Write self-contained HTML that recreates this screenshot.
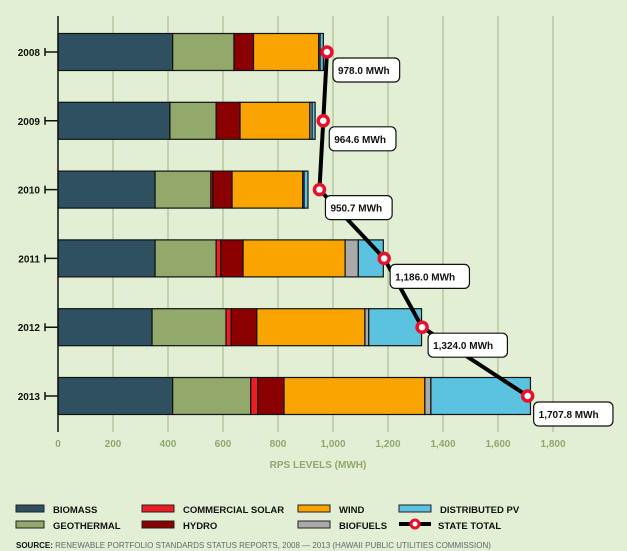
<!DOCTYPE html>
<html><head><meta charset="utf-8"><style>
html,body{margin:0;padding:0;background:#e2efd5;}
svg{display:block;font-family:"Liberation Sans",sans-serif;}
</style></head><body>
<svg id="c" width="627" height="551" viewBox="0 0 627 551">
<rect x="0" y="0" width="627" height="551" fill="#e2efd5"/>
<g id="grid"></g><g id="bars"></g><g id="axis"></g><g id="line"></g>
<text x="318" y="468" text-anchor="middle" font-size="10" font-weight="bold" fill="#8fa86c">RPS LEVELS (MWH)</text>
<g id="legend" font-size="9.5" font-weight="bold" fill="#111"></g>
<text x="16" y="548" font-size="8" fill="#666"><tspan font-weight="bold" fill="#111">SOURCE:</tspan> RENEWABLE PORTFOLIO STANDARDS STATUS REPORTS, 2008 — 2013 (HAWAII PUBLIC UTILITIES COMMISSION)</text>
</svg>
<script>
const years=["2008","2009","2010","2011","2012","2013"];
const biomass=[417,407,353,353,342,417];
const geothermal=[223,168,203,222,269,284];
const commercialSolar=[0,0,7,17,19,26];
const hydro=[71,87,70,81,93,95];
const wind=[237,254,257,371,393,512];
const biofuels=[5,8,5,48,14,22];
const distributedPV=[12,11,14,91,192,362];
const totals=[978.0,964.6,950.7,1186.0,1324.0,1707.8];
const totalLabels=["978.0 MWh","964.6 MWh","950.7 MWh","1,186.0 MWh","1,324.0 MWh","1,707.8 MWh"];
const xTicks=[0,200,400,600,800,1000,1200,1400,1600,1800];
const xTickLabels=["0","200","400","600","800","1,000","1,200","1,400","1,600","1,800"];

const NS="http://www.w3.org/2000/svg";
const X0=58,K=0.275;
const xs=v=>X0+v*K;
const yTop=i=>33.5+i*68.8, BH=37;
function mk(p,t,a){const e=document.createElementNS(NS,t);for(const k in a)e.setAttribute(k,a[k]);p.appendChild(e);return e;}
const G=document.getElementById('grid'),B=document.getElementById('bars'),A=document.getElementById('axis'),L=document.getElementById('line'),LG=document.getElementById('legend');
xTicks.forEach((t,i)=>{
  if(t>0){const g=mk(G,'line',{x1:xs(t),x2:xs(t),y1:16,y2:432,stroke:'#b7c8a2','stroke-width':1.5});
  
  }
  const tx=mk(A,'text',{x:xs(t),y:447,'text-anchor':'middle','font-size':10,'font-weight':'bold',fill:'#8fa86c'});
  tx.textContent=xTickLabels[i];
  
  
});
const ax=mk(A,'line',{x1:X0,x2:X0,y1:16,y2:432,stroke:'#111','stroke-width':1.5});


const series=[["biomass",biomass,"#2e5060"],["geothermal",geothermal,"#93a86b"],["commercial-solar",commercialSolar,"#ee1c24"],["hydro",hydro,"#8b0000"],["wind",wind,"#f9a400"],["biofuels",biofuels,"#aaaaaa"],["distributed-pv",distributedPV,"#5bc3e0"]];
years.forEach((y,i)=>{
  let acc=0;
  series.forEach(s=>{const v=s[1][i];if(v<=0)return;
    const r=mk(B,'rect',{x:xs(acc),y:yTop(i),width:v*K,height:BH,fill:s[2],stroke:'#111','stroke-width':1.2});
    
    
    acc+=v;});
  const cy=yTop(i)+BH/2;
  const lb=mk(A,'text',{x:40,y:cy+4,'text-anchor':'end','font-size':10,'font-weight':'bold',fill:'#111'});
  lb.textContent=y;
  
  
  const tk=mk(A,'path',{d:`M45 ${cy-4}V${cy+4}M45 ${cy}H58`,stroke:'#111','stroke-width':1.5,fill:'none'});
  
  
});
const pts=totals.map((v,i)=>[xs(v),yTop(i)+BH/2]);
const pl=mk(L,'polyline',{points:pts.map(p=>p.join(',')).join(' '),fill:'none',stroke:'#000','stroke-width':4});


pts.forEach((p,i)=>{
  const c=mk(L,'circle',{cx:p[0],cy:p[1],r:5,fill:'#fff',stroke:'#e8102a','stroke-width':3.5});
  
  
  const w=totalLabels[i].length*6.3+10;
  const r=mk(L,'rect',{x:p[0]+6,y:p[1]+6,width:w,height:24,rx:5,fill:'#fff',stroke:'#111','stroke-width':1.2});
  
  
  const t=mk(L,'text',{x:p[0]+11,y:p[1]+22,'font-size':10,'font-weight':'bold',fill:'#111'});
  t.textContent=totalLabels[i];
  
  
});
const leg=[["BIOMASS","#2e5060",16,511],["GEOTHERMAL","#93a86b",16,527],["COMMERCIAL SOLAR","#ee1c24",142,511],["HYDRO","#8b0000",142,527],["WIND","#f9a400",298,511],["BIOFUELS","#aaaaaa",298,527],["DISTRIBUTED PV","#5bc3e0",399,511]];
leg.forEach(l=>{
  const w=l[2]===142?32:(l[2]===16?28:32);
  const r=mk(LG,'rect',{x:l[2],y:l[3]-6,width:w,height:7,fill:l[1],stroke:'#222','stroke-width':1});
  
  
  const t=mk(LG,'text',{x:l[2]+w+9,y:l[3]+2});
  t.textContent=l[0];
  
  
});
const ll=mk(LG,'line',{x1:399,x2:431,y1:524,y2:524,stroke:'#000','stroke-width':4});


const lc=mk(LG,'circle',{cx:415,cy:524,r:4,fill:'#fff',stroke:'#e8102a','stroke-width':3});


const lt=mk(LG,'text',{x:438,y:529});
lt.textContent="STATE TOTAL";


</script>
</body></html>
